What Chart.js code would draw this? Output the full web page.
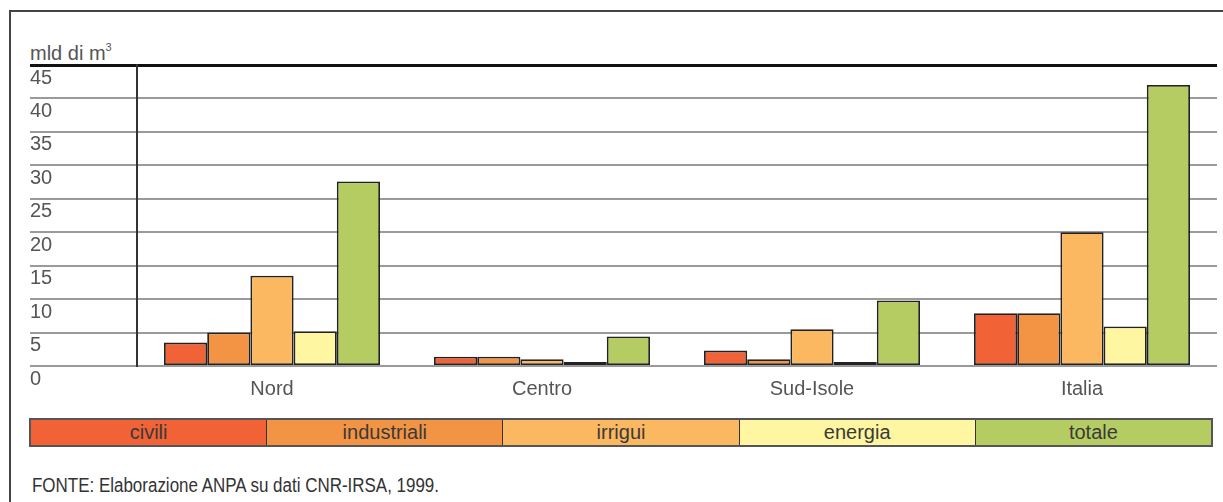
<!DOCTYPE html>
<html>
<head>
<meta charset="utf-8">
<script src="https://cdn.jsdelivr.net/npm/chart.js@4/dist/chart.umd.min.js"></script>
<style>
  html, body { margin: 0; padding: 0; background: #fff; }
  #wrap { position: relative; width: 1223px; height: 502px; overflow: hidden; font-family: "Liberation Sans", Arial, sans-serif; }
  #frameTop { position: absolute; left: 9px; top: 10px; width: 1214px; height: 2px; background: #444; }
  #frameLeft { position: absolute; left: 9px; top: 10px; width: 2px; height: 492px; background: #444; }
  #unit { position: absolute; left: 30px; top: 43px; font-size: 20px; line-height: 20px; color: #555; white-space: nowrap; }
  #unit span { font-size: 11px; position: relative; top: -9px; }
  #chart { position: absolute; left: 0; top: 0; }
  #legend { position: absolute; left: 29px; top: 418px; width: 1184px; height: 29px; box-sizing: border-box; border: 2px solid #555; display: flex; }
  #legend div { flex: 1; text-align: center; font-size: 20px; line-height: 25px; color: #3a3a3a; border-left: 1.5px solid #333; }
  #legend div:first-child { border-left: none; }
  #source { position: absolute; left: 32px; top: 474px; font-size: 19.5px; color: #333; white-space: nowrap; transform: scaleX(0.87); transform-origin: 0 0; }
</style>
</head>
<body>
<div id="wrap">
  <div id="frameTop"></div>
  <div id="frameLeft"></div>
  <div id="unit">mld di m<span>3</span></div>
  <canvas id="chart" width="1223" height="410"></canvas>
  <div id="legend"></div>
  <div id="source">FONTE: Elaborazione ANPA su dati CNR-IRSA, 1999.</div>
</div>
<script>
// values, mld di m3
var categories = ['Nord', 'Centro', 'Sud-Isole', 'Italia']
var civili = [3.5, 1.4, 2.3, 7.9]
var industriali = [5.0, 1.4, 1.0, 7.9]
var irrigui = [13.5, 1.0, 5.5, 20.0]
var energia = [5.2, 0.6, 0.6, 5.9]
var totale = [27.6, 4.4, 9.8, 42.0]

var seriesNames = ['civili', 'industriali', 'irrigui', 'energia', 'totale']
var seriesColors = ['#f16236', '#f39444', '#fbb860', '#fef6a0', '#b4cc62']
var seriesValues = [civili, industriali, irrigui, energia, totale]

var yMin = 0
var yMax = 45
var yStep = 5

Chart.defaults.font.family = '"Liberation Sans", Arial, sans-serif'

var datasets = []
for (var i = 0; i < seriesNames.length; i++) {
  datasets.push({
    label: seriesNames[i],
    data: seriesValues[i],
    backgroundColor: seriesColors[i],
    borderColor: '#222',
    borderWidth: 1.8,
    borderSkipped: false
  })
}

var ctx = document.getElementById('chart').getContext('2d')
new Chart(ctx, {
  type: 'bar',
  data: { labels: categories, datasets: datasets },
  options: {
    responsive: false,
    animation: false,
    layout: { padding: { left: 30, right: 6, top: 65, bottom: 10 } },
    plugins: { legend: { display: false }, tooltip: { enabled: false } },
    datasets: { bar: { categoryPercentage: 0.8, barPercentage: 1.0 } },
    scales: {
      x: {
        grid: { display: false, drawTicks: false },
        border: { display: false },
        ticks: { color: '#555', font: { size: 20 }, padding: 11 },
        afterFit: function (s) { s.height = 34 }
      },
      y: {
        min: yMin,
        max: yMax,
        ticks: { stepSize: yStep, color: '#555', font: { size: 20 }, crossAlign: 'far', labelOffset: 13, padding: 0 },
        grid: {
          color: function (c) { return c.tick && c.tick.value === yMax ? '#111' : '#9a9a9a' },
          lineWidth: function (c) { return c.tick && c.tick.value === yMax ? 3 : 2 },
          drawTicks: true,
          tickLength: 107
        },
        border: { color: '#333', width: 2 },
        afterFit: function (s) { s.width = 107 }
      }
    }
  }
})

// legend strip under the chart
var legend = document.getElementById('legend')
for (var j = 0; j < seriesNames.length; j++) {
  var cell = document.createElement('div')
  cell.textContent = seriesNames[j]
  cell.style.background = seriesColors[j]
  legend.appendChild(cell)
}
</script>
</body>
</html>
